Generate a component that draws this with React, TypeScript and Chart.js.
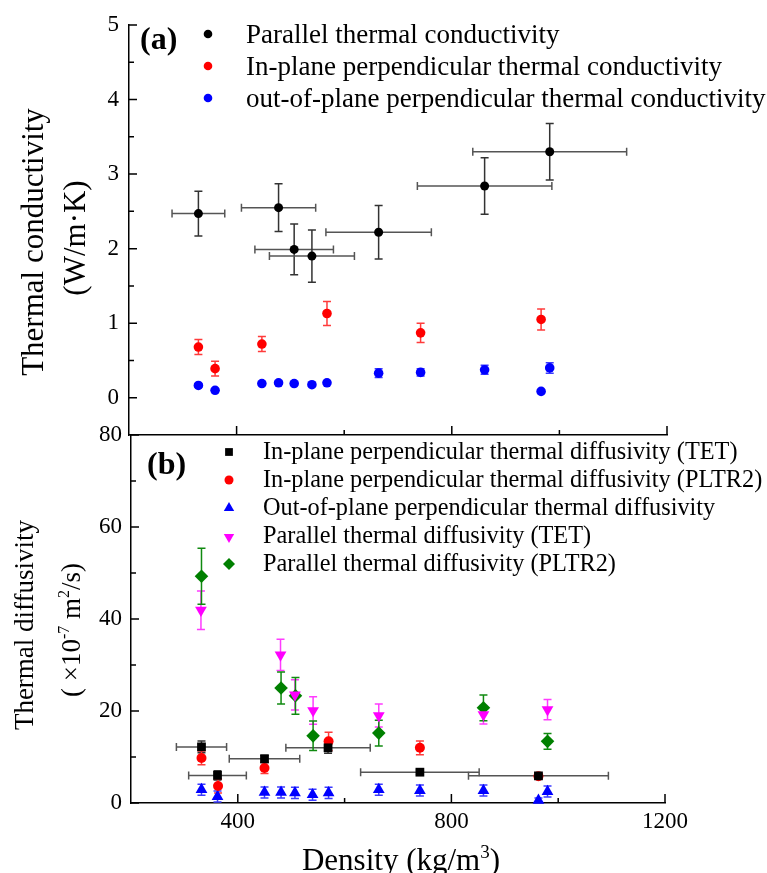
import React, { useEffect, useRef } from 'react';
import { Chart, registerables } from 'chart.js';
import { drawPoint } from 'chart.js/helpers';

Chart.register(...registerables);

const FONT = '"Liberation Serif", "Times New Roman", Times, serif';

// ---------- shared x axis ----------
const X_MIN = 200;
const X_MAX = 1200;
const X_MAJOR = [400, 800, 1200];
const X_MINOR = [600, 1000];

// ---------- panel (a): thermal conductivity ----------
const A_Y_MAJOR = [0, 1, 2, 3, 4, 5];
const A_Y_MINOR = [0.5, 1.5, 2.5, 3.5, 4.5];

const LEGEND_A = [
  'Parallel thermal conductivity',
  'In-plane perpendicular thermal conductivity',
  'out-of-plane perpendicular thermal conductivity',
];

const aParDensity = [329, 478, 507, 540, 664, 861, 982];
const aParDensityErr = [49, 69, 73, 79, 98, 125, 143];
const aParK = [2.47, 2.55, 1.99, 1.9, 2.22, 2.84, 3.3];
const aParKErr = [0.3, 0.32, 0.34, 0.35, 0.36, 0.38, 0.38];

const aInDensity = [329, 360, 447, 568, 742, 966];
const aInK = [0.68, 0.39, 0.72, 1.13, 0.87, 1.05];
const aInKErr = [0.1, 0.1, 0.1, 0.16, 0.13, 0.14];

const aOutDensity = [329, 360, 447, 478, 507, 540, 568, 664, 742, 861, 966, 982];
const aOutK = [0.165, 0.1, 0.19, 0.2, 0.19, 0.175, 0.2, 0.33, 0.34, 0.375, 0.085, 0.4];
const aOutKErr = [0.02, 0, 0.02, 0.02, 0.02, 0.02, 0.02, 0.06, 0.05, 0.06, 0, 0.07];

// ---------- panel (b): thermal diffusivity ----------
const B_Y_MAJOR = [0, 20, 40, 60, 80];
const B_Y_MINOR = [10, 30, 50, 70];

const LEGEND_B = [
  'In-plane perpendicular thermal diffusivity (TET)',
  'In-plane perpendicular thermal diffusivity (PLTR2)',
  'Out-of-plane perpendicular thermal diffusivity',
  'Parallel thermal diffusivity (TET)',
  'Parallel thermal diffusivity (PLTR2)',
];

const bInTetDensity = [332, 362, 450, 569, 741, 963];
const bInTetDensityErr = [47, 54, 66, 79, 111, 131];
const bInTet = [12.2, 6.0, 9.6, 12.0, 6.7, 5.9];
const bInTetErr = [1.3, 1.0, 0.8, 1.2, 0.5, 0.5];

const bInPltrDensity = [332, 363, 450, 570, 741, 963];
const bInPltr = [9.8, 3.7, 7.6, 13.4, 12.0, 5.8];
const bInPltrErr = [1.5, 1.5, 1.2, 2.0, 1.5, 0.6];

const bOutDensity = [332, 362, 450, 481, 507, 540, 570, 664, 741, 860, 963, 980];
const bOut = [2.9, 1.4, 2.3, 2.3, 2.2, 1.8, 2.2, 2.9, 2.7, 2.7, 0.6, 2.5];
const bOutErr = [1.2, 1.2, 1.2, 1.2, 1.2, 1.2, 1.2, 1.2, 1.2, 1.2, 0.5, 1.2];

const bParTetDensity = [331, 480, 507, 541, 664, 860, 980];
const bParTet = [41.9, 32.2, 23.5, 20.1, 19.0, 19.2, 20.3];
const bParTetErr = [4.2, 3.4, 3.3, 3.0, 2.5, 2.0, 2.2];

const bParPltrDensity = [332, 481, 508, 541, 664, 860, 980];
const bParPltr = [49.3, 25.0, 23.3, 14.6, 15.2, 20.7, 13.4];
const bParPltrErr = [6.1, 3.5, 4.0, 3.2, 2.8, 2.8, 1.7];

const toPts = (xs: number[], ys: number[]) => xs.map((x, i) => ({ x, y: ys[i] }));

type Seg = { t: string; sup?: boolean };

function drawRich(ctx: CanvasRenderingContext2D, segs: Seg[], cx: number, base: number, size: number) {
  const supSize = Math.round(size * 0.6);
  let total = 0;
  const widths = segs.map((s) => {
    ctx.font = `${s.sup ? supSize : size}px ${FONT}`;
    const w = ctx.measureText(s.t).width;
    total += w;
    return w;
  });
  let x = cx - total / 2;
  ctx.textAlign = 'left';
  ctx.textBaseline = 'alphabetic';
  segs.forEach((s, i) => {
    ctx.font = `${s.sup ? supSize : size}px ${FONT}`;
    ctx.fillText(s.t, x, s.sup ? base - size * 0.4 : base);
    x += widths[i];
  });
}

function drawRotated(ctx: CanvasRenderingContext2D, x: number, y: number, fn: () => void) {
  ctx.save();
  ctx.translate(x, y);
  ctx.rotate(-Math.PI / 2);
  fn();
  ctx.restore();
}

const errorBarPlugin = {
  id: 'errorBars',
  beforeDatasetsDraw(chart: any) {
    const { ctx, scales } = chart;
    const xs = scales.x;
    const ys = scales.y;
    ctx.save();
    chart.data.datasets.forEach((ds: any) => {
      ds.data.forEach((p: any, i: number) => {
        const px = xs.getPixelForValue(p.x);
        const py = ys.getPixelForValue(p.y);
        if (ds.xErr && ds.xErr[i]) {
          const x0 = xs.getPixelForValue(p.x - ds.xErr[i]);
          const x1 = xs.getPixelForValue(p.x + ds.xErr[i]);
          ctx.strokeStyle = '#555';
          ctx.lineWidth = 1.5;
          ctx.beginPath();
          ctx.moveTo(x0, py);
          ctx.lineTo(x1, py);
          ctx.moveTo(x0, py - 4);
          ctx.lineTo(x0, py + 4);
          ctx.moveTo(x1, py - 4);
          ctx.lineTo(x1, py + 4);
          ctx.stroke();
        }
        if (ds.yErr && ds.yErr[i]) {
          const y0 = ys.getPixelForValue(p.y - ds.yErr[i]);
          const y1 = ys.getPixelForValue(p.y + ds.yErr[i]);
          ctx.strokeStyle = ds.errColor;
          ctx.lineWidth = 1.5;
          ctx.beginPath();
          ctx.moveTo(px, y0);
          ctx.lineTo(px, y1);
          ctx.moveTo(px - 4, y0);
          ctx.lineTo(px + 4, y0);
          ctx.moveTo(px - 4, y1);
          ctx.lineTo(px + 4, y1);
          ctx.stroke();
        }
      });
    });
    ctx.restore();
  },
};

function inwardTicks(yMajor: number[], yMinor: number[]) {
  return {
    id: 'inwardTicks',
    afterDatasetsDraw(chart: any) {
      const { ctx, chartArea, scales } = chart;
      ctx.save();
      ctx.strokeStyle = '#000';
      ctx.lineWidth = 1.5;
      ctx.beginPath();
      yMajor.forEach((v) => {
        const py = scales.y.getPixelForValue(v);
        ctx.moveTo(chartArea.left, py);
        ctx.lineTo(chartArea.left + 8, py);
      });
      yMinor.forEach((v) => {
        const py = scales.y.getPixelForValue(v);
        ctx.moveTo(chartArea.left, py);
        ctx.lineTo(chartArea.left + 5, py);
      });
      X_MAJOR.forEach((v) => {
        const px = scales.x.getPixelForValue(v);
        ctx.moveTo(px, chartArea.bottom);
        ctx.lineTo(px, chartArea.bottom - 9);
      });
      X_MINOR.forEach((v) => {
        const px = scales.x.getPixelForValue(v);
        ctx.moveTo(px, chartArea.bottom);
        ctx.lineTo(px, chartArea.bottom - 5);
      });
      ctx.stroke();
      ctx.restore();
    },
  };
}

function legendDraw(
  ctx: CanvasRenderingContext2D,
  chart: any,
  labels: string[],
  mx: number,
  my: number[],
  tx: number,
  tb: number[],
  size: number,
  legendRadius: number[]
) {
  chart.data.datasets.forEach((ds: any, i: number) => {
    ctx.fillStyle = ds.backgroundColor;
    ctx.strokeStyle = ds.backgroundColor;
    drawPoint(ctx, { pointStyle: ds.pointStyle, radius: legendRadius[i], rotation: ds.rotation || 0, borderWidth: 0 } as any, mx, my[i]);
    ctx.fillStyle = '#000';
    ctx.font = `${size}px ${FONT}`;
    ctx.textAlign = 'left';
    ctx.textBaseline = 'alphabetic';
    ctx.fillText(labels[i], tx, tb[i]);
  });
}

const decorA = {
  id: 'decorA',
  afterDraw(chart: any) {
    const ctx = chart.ctx as CanvasRenderingContext2D;
    ctx.save();
    ctx.fillStyle = '#000';
    ctx.font = `bold 32px ${FONT}`;
    ctx.textAlign = 'left';
    ctx.textBaseline = 'alphabetic';
    ctx.fillText('(a)', 140, 49);
    legendDraw(ctx, chart, LEGEND_A, 208, [34, 66, 98], 246, [43, 75, 107], 27, [4.3, 4.3, 4.3]);
    ctx.fillStyle = '#000';
    drawRotated(ctx, 43, 242, () => {
      ctx.font = `31px ${FONT}`;
      ctx.textAlign = 'center';
      ctx.textBaseline = 'alphabetic';
      ctx.fillText('Thermal conductivity', 0, 0);
    });
    drawRotated(ctx, 85, 238, () => {
      ctx.font = `31px ${FONT}`;
      ctx.textAlign = 'center';
      ctx.textBaseline = 'alphabetic';
      ctx.fillText('(W/m\u00b7K)', 0, 0);
    });
    ctx.restore();
  },
};

const B_TOP = 420;

const decorB = {
  id: 'decorB',
  afterDraw(chart: any) {
    const ctx = chart.ctx as CanvasRenderingContext2D;
    ctx.save();
    ctx.fillStyle = '#000';
    ctx.font = `bold 32px ${FONT}`;
    ctx.textAlign = 'left';
    ctx.textBaseline = 'alphabetic';
    ctx.fillText('(b)', 147, 474 - B_TOP);
    legendDraw(
      ctx,
      chart,
      LEGEND_B,
      229,
      [452, 480, 508, 537, 564].map((v) => v - B_TOP),
      263,
      [459, 487, 515, 543, 571].map((v) => v - B_TOP),
      24.3,
      [5.5, 4.5, 6, 6, 6]
    );
    ctx.fillStyle = '#000';
    drawRotated(ctx, 33, 625 - B_TOP, () => {
      ctx.font = `27px ${FONT}`;
      ctx.textAlign = 'center';
      ctx.textBaseline = 'alphabetic';
      ctx.fillText('Thermal diffusivity', 0, 0);
    });
    drawRotated(ctx, 80, 630 - B_TOP, () => {
      drawRich(
        ctx,
        [{ t: '( \u00d710' }, { t: '-7', sup: true }, { t: ' m' }, { t: '2', sup: true }, { t: '/s)' }],
        0,
        0,
        27
      );
    });
    drawRich(ctx, [{ t: 'Density (kg/m' }, { t: '3', sup: true }, { t: ')' }], 401, 870 - B_TOP, 31);
    ctx.restore();
  },
};

const zeroPad = (s: any) => {
  s.paddingTop = 0;
  s.paddingBottom = 0;
  s.paddingLeft = 0;
  s.paddingRight = 0;
};

function xScale(showLabels: boolean, height: number) {
  return {
    type: 'linear' as const,
    min: X_MIN,
    max: X_MAX,
    afterBuildTicks: (s: any) => {
      s.ticks = X_MAJOR.map((v) => ({ value: v }));
    },
    afterFit: (s: any) => {
      s.height = height;
      zeroPad(s);
    },
    grid: { display: false, drawTicks: false },
    border: { display: true, color: '#000', width: 1.5 },
    ticks: {
      display: showLabels,
      autoSkip: false,
      maxRotation: 0,
      padding: 5,
      color: '#000',
      font: { family: FONT, size: 23 },
      callback: (v: any) => String(v),
    },
  };
}

function yScale(min: number, max: number, major: number[], width: number, padding: number) {
  return {
    type: 'linear' as const,
    min,
    max,
    afterBuildTicks: (s: any) => {
      s.ticks = major.map((v) => ({ value: v }));
    },
    afterFit: (s: any) => {
      s.width = width;
      zeroPad(s);
    },
    grid: { display: false, drawTicks: false },
    border: { display: true, color: '#000', width: 1.5 },
    ticks: {
      padding,
      color: '#000',
      font: { family: FONT, size: 23 },
      callback: (v: any) => String(v),
    },
  };
}

function ds(label: string, data: any[], color: string, errColor: string, pointStyle: string, radius: number, yErr: number[] | null, xErr: number[] | null, rotation = 0) {
  return {
    label,
    data,
    backgroundColor: color,
    borderColor: color,
    borderWidth: 0,
    pointStyle,
    pointRadius: radius,
    pointHoverRadius: radius,
    rotation,
    pointRotation: rotation,
    showLine: false,
    clip: false as any,
    yErr,
    xErr,
    errColor,
  };
}

export default function App() {
  const refA = useRef<HTMLCanvasElement>(null);
  const refB = useRef<HTMLCanvasElement>(null);

  useEffect(() => {
    const chartA = new Chart(refA.current as HTMLCanvasElement, {
      type: 'scatter',
      data: {
        datasets: [
          ds(LEGEND_A[0], toPts(aParDensity, aParK), '#000000', '#333333', 'circle', 4.5, aParKErr, aParDensityErr),
          ds(LEGEND_A[1], toPts(aInDensity, aInK), '#ff0000', '#ff3b3b', 'circle', 4.8, aInKErr, null),
          ds(LEGEND_A[2], toPts(aOutDensity, aOutK), '#0000ff', '#3b3bff', 'circle', 4.8, aOutKErr, null),
        ] as any,
      },
      options: {
        responsive: false,
        animation: false,
        events: [],
        layout: { padding: { left: 0, top: 25, right: 100, bottom: 0 } },
        plugins: { legend: { display: false }, tooltip: { enabled: false } },
        scales: {
          x: xScale(false, 5) as any,
          y: yScale(-0.5, 5, A_Y_MAJOR, 129, 10) as any,
        },
      },
      plugins: [errorBarPlugin, inwardTicks(A_Y_MAJOR, A_Y_MINOR), decorA],
    });

    const chartB = new Chart(refB.current as HTMLCanvasElement, {
      type: 'scatter',
      data: {
        datasets: [
          ds(LEGEND_B[0], toPts(bInTetDensity, bInTet), '#000000', '#333333', 'rect', 6.2, bInTetErr, bInTetDensityErr),
          ds(LEGEND_B[1], toPts(bInPltrDensity, bInPltr), '#ff0000', '#ff3b3b', 'circle', 5, bInPltrErr, null),
          ds(LEGEND_B[2], toPts(bOutDensity, bOut), '#0000ff', '#3b3bff', 'triangle', 6.8, bOutErr, null),
          ds(LEGEND_B[3], toPts(bParTetDensity, bParTet), '#ff00ff', '#ff3bff', 'triangle', 6.8, bParTetErr, null, 180),
          ds(LEGEND_B[4], toPts(bParPltrDensity, bParPltr), '#008000', '#108a10', 'rectRot', 6.8, bParPltrErr, null),
        ] as any,
      },
      options: {
        responsive: false,
        animation: false,
        events: [],
        layout: { padding: { left: 0, top: 15, right: 102, bottom: 0 } },
        plugins: { legend: { display: false }, tooltip: { enabled: false } },
        scales: {
          x: xScale(true, 70) as any,
          y: yScale(0, 80, B_Y_MAJOR, 131, 9) as any,
        },
      },
      plugins: [errorBarPlugin, inwardTicks(B_Y_MAJOR, B_Y_MINOR), decorB],
    });

    return () => {
      chartA.destroy();
      chartB.destroy();
    };
  }, []);

  return (
    <div style={{ position: 'absolute', left: 0, top: 0, width: 767, height: 873, background: '#ffffff', overflow: 'hidden' }}>
      <canvas ref={refA} width={767} height={440} style={{ position: 'absolute', left: 0, top: 0, width: 767, height: 440 }} />
      <canvas ref={refB} width={767} height={453} style={{ position: 'absolute', left: 0, top: B_TOP, width: 767, height: 453 }} />
    </div>
  );
}
